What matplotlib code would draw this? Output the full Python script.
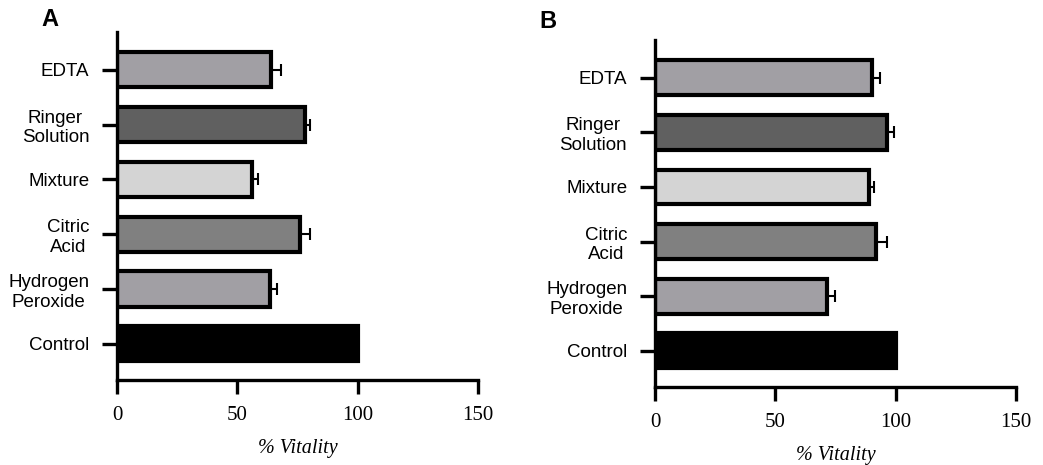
import matplotlib
matplotlib.use("Agg")
import matplotlib.pyplot as plt
import numpy as np

categories = ["Control", "Hydrogen\nPeroxide", "Citric\nAcid", "Mixture", "Ringer\nSolution", "EDTA"]
vitality_A = [100, 63.5, 76, 56, 78, 64]
error_A = [0, 3, 4, 2.5, 2, 4]
vitality_B = [100, 71.5, 92, 89, 96.5, 90]
error_B = [0, 3.5, 4.5, 2, 3, 3.5]
bar_colors = ["#000000", "#a19fa4", "#808080", "#d4d4d4", "#606060", "#a19fa4"]
xticks = [0, 50, 100, 150]

fig = plt.figure(figsize=(10.43, 4.65), dpi=100)

def panel(rect, values, errors, letter, letter_pos):
    ax = fig.add_axes(rect)
    y = np.arange(len(categories))
    ax.barh(y, values, height=0.64, color=bar_colors, edgecolor="black", linewidth=3.0, zorder=2)
    for i in range(len(values)):
        if errors[i] > 0:
            ax.errorbar(values[i], y[i], xerr=[[0], [errors[i]]], fmt="none", ecolor="black",
                        elinewidth=1.5, capsize=4.5, capthick=1.5, zorder=1)
    ax.set_xlim(0, 150)
    ax.set_ylim(-0.66, 5.69)
    ax.set_xticks(xticks)
    ax.set_xticklabels([str(t) for t in xticks], family="Liberation Serif", fontsize=15)
    ax.set_yticks(y)
    ax.set_yticklabels(categories, family="Liberation Sans", fontsize=13.5, multialignment="center",
                       linespacing=1.2)
    for s in ["top", "right"]:
        ax.spines[s].set_visible(False)
    for s in ["left", "bottom"]:
        ax.spines[s].set_linewidth(2.4)
    ax.tick_params(axis="y", length=11, width=2.4, pad=9)
    ax.tick_params(axis="x", length=10, width=2.4, pad=9)
    ax.set_xlabel("% Vitality", family="Liberation Serif", style="italic", fontsize=14.5, labelpad=10)
    fig.text(letter_pos[0], letter_pos[1], letter, family="Liberation Sans", weight="bold",
             fontsize=17, ha="left", va="center")
    return ax

panel([0.1122, 0.1828, 0.3461, 0.7484], vitality_A, error_A, "A", (0.040, 0.958))
panel([0.628, 0.1677, 0.346, 0.7463], vitality_B, error_B, "B", (0.517, 0.953))

fig.savefig("out.png", dpi=100)
